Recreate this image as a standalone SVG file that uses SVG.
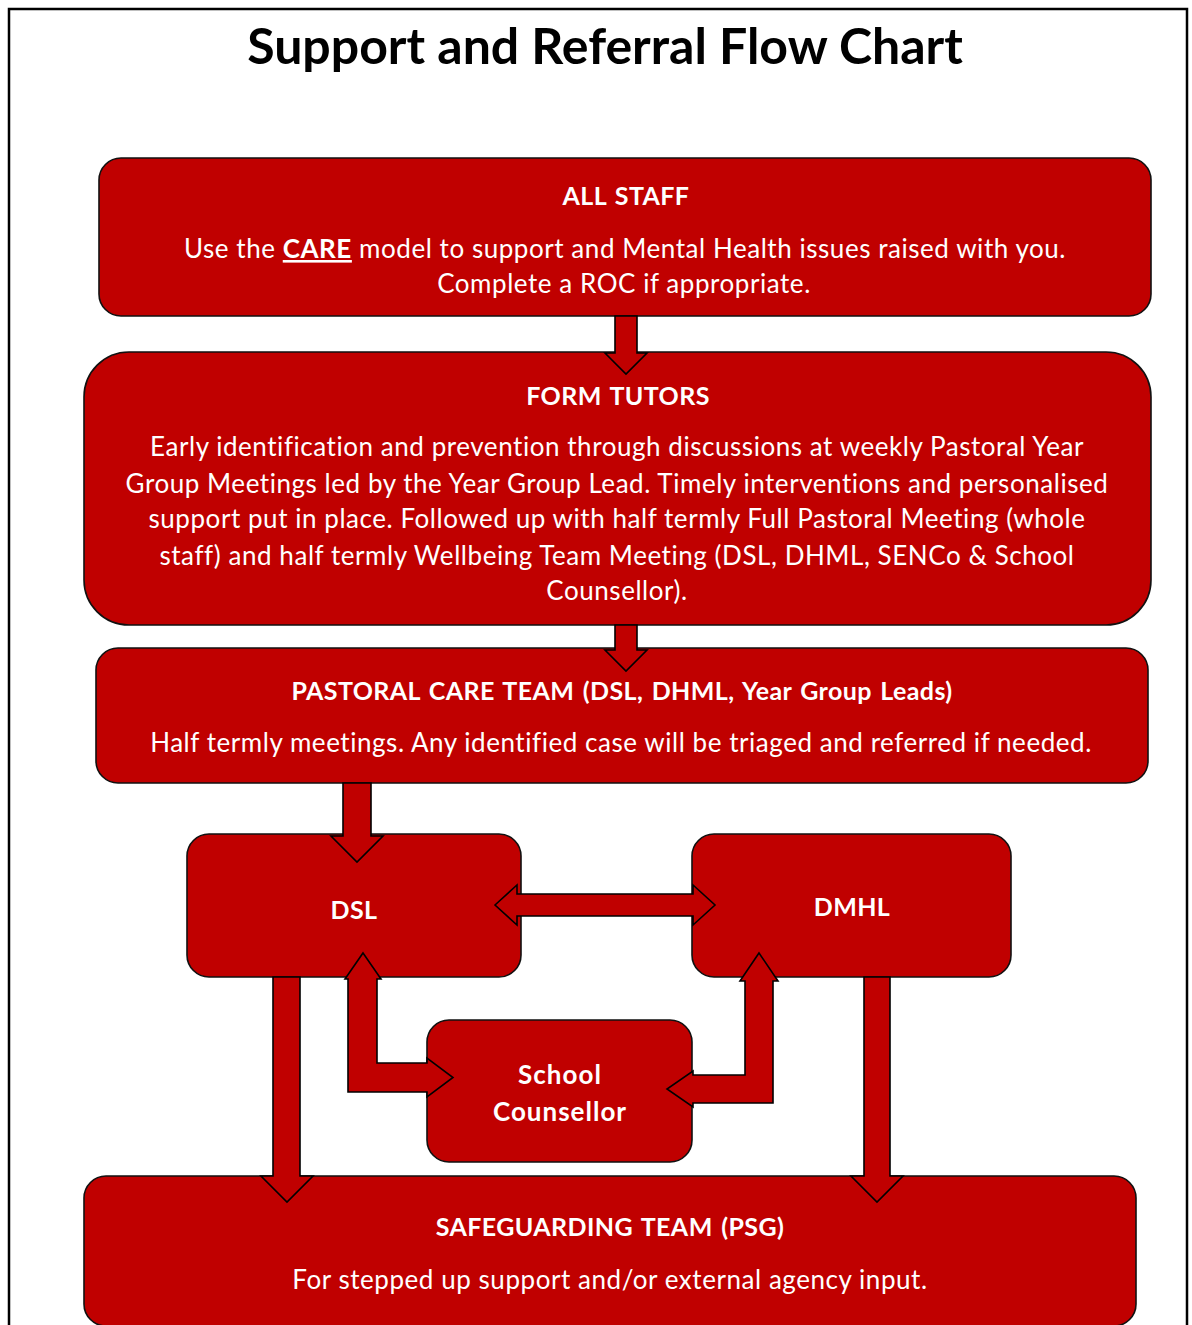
<svg xmlns="http://www.w3.org/2000/svg" width="1192" height="1325" viewBox="0 0 1192 1325">
<style>
.box{fill:#C00000;stroke:#111;stroke-width:1.6}
.arr{fill:#C00000;stroke:#000;stroke-width:1.6;stroke-linejoin:miter}
.t{font-family:Lato,"Open Sans","Liberation Sans",sans-serif;fill:#fff;text-anchor:middle}
.h{font-weight:bold;font-size:25px;letter-spacing:0.4px;word-spacing:2px}
.hs{font-weight:bold;font-size:26px;letter-spacing:1px}
.b{font-size:26px;letter-spacing:0.55px}
.title{font-family:Lato,"Open Sans","Liberation Sans",sans-serif;font-weight:bold;font-size:50px;fill:#000;text-anchor:middle}
</style>
<rect x="0" y="0" width="1192" height="1325" fill="#fff"/>
<rect x="9" y="9" width="1178" height="1340" fill="none" stroke="#000" stroke-width="2.5"/>
<text class="title" x="605" y="64">Support and Referral Flow Chart</text>
<g id="all-staff">
<rect class="box" x="99" y="158" width="1052" height="158" rx="22"/>
<text class="t h" x="626" y="205">ALL STAFF</text>
<text class="t b" x="625" y="258">Use the <tspan font-weight="bold" text-decoration="underline">CARE</tspan> model to support and Mental Health issues raised with you.</text>
<text class="t b" x="624" y="293">Complete a ROC if appropriate.</text>
</g>
<g id="form-tutors">
<rect class="box" x="84" y="352" width="1067" height="273" rx="45"/>
<text class="t h" x="618" y="405">FORM TUTORS</text>
<text class="t b" x="617" y="456">Early identification and prevention through discussions at weekly Pastoral Year</text>
<text class="t b" x="617" y="493">Group Meetings led by the Year Group Lead. Timely interventions and personalised</text>
<text class="t b" x="617" y="528">support put in place. Followed up with half termly Full Pastoral Meeting (whole</text>
<text class="t b" x="617" y="565">staff) and half termly Wellbeing Team Meeting (DSL, DHML, SENCo &amp; School</text>
<text class="t b" x="617" y="600">Counsellor).</text>
</g>
<g id="pastoral">
<rect class="box" x="96" y="648" width="1052" height="135" rx="22"/>
<text class="t h" x="622" y="700">PASTORAL CARE TEAM (DSL, DHML, Year Group Leads)</text>
<text class="t b" x="621" y="752">Half termly meetings. Any identified case will be triaged and referred if needed.</text>
</g>
<g id="dsl">
<rect class="box" x="187" y="834" width="334" height="143" rx="22"/>
<text class="t h" x="354" y="919">DSL</text>
</g>
<g id="dmhl">
<rect class="box" x="692" y="834" width="319" height="143" rx="22"/>
<text class="t h" x="852" y="916">DMHL</text>
</g>
<g id="counsellor">
<rect class="box" x="427" y="1020" width="265" height="142" rx="22"/>
<text class="t hs" x="560" y="1084">School</text>
<text class="t hs" x="560" y="1121">Counsellor</text>
</g>
<g id="safeguarding">
<rect class="box" x="84" y="1176" width="1052" height="150" rx="22"/>
<text class="t h" x="610" y="1236">SAFEGUARDING TEAM (PSG)</text>
<text class="t b" x="610" y="1289">For stepped up support and/or external agency input.</text>
</g>
<g id="connectors">
<polygon class="arr" points="615,316 637,316 637,353 647,353 626,374 605,353 615,353"/>
<polygon class="arr" points="615,625 637,625 637,650 647,650 626,671 605,650 615,650"/>
<polygon class="arr" points="343,783 371,783 371,836 383,836 357,862 331,836 343,836"/>
<polygon class="arr" points="495,905 517,885 517,894 693,894 693,885 715,905 693,925 693,916 517,916 517,925"/>
<polygon class="arr" points="273,977 300,977 300,1176 313,1176 287,1202 261,1176 273,1176"/>
<polygon class="arr" points="864,977 890,977 890,1176 903,1176 877,1202 851,1176 864,1176"/>
<polygon class="arr" points="363,953 381,979 377,979 377,1063 427,1063 427,1058 453,1077.5 427,1097 427,1092 348,1092 348,979 345,979"/>
<polygon class="arr" points="759,953 778,981 773,981 773,1103 693,1103 693,1107 667,1089 693,1071 693,1075 745,1075 745,981 740,981"/>
</g>
</svg>
